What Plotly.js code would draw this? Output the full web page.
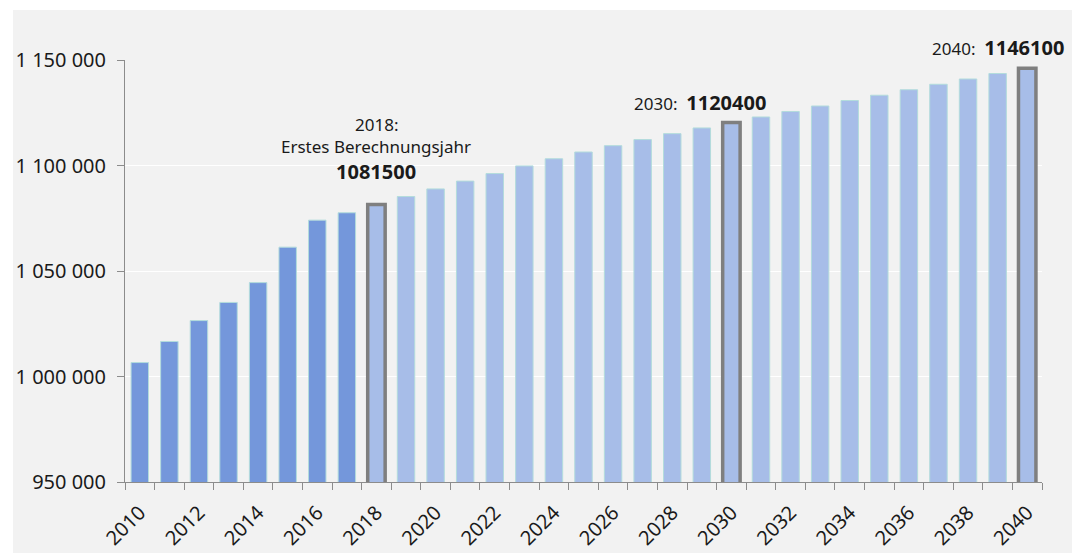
<!DOCTYPE html>
<html>
<head>
<meta charset="utf-8">
<script src="https://cdn.plot.ly/plotly-3.0.1.min.js"></script>
<style>html,body{margin:0;padding:0;background:#fff;}#chart{width:1077px;height:553px;}</style>
</head>
<body>
<div id="chart"></div>
<script>
// Data
const years = [2010,2011,2012,2013,2014,2015,2016,2017,2018,2019,2020,2021,2022,2023,2024,2025,2026,2027,2028,2029,2030,2031,2032,2033,2034,2035,2036,2037,2038,2039,2040];
const population = [1006600,1016600,1026500,1035100,1044500,1061300,1074100,1077600,1081500,1085300,1088900,1092600,1096200,1099800,1103200,1106400,1109400,1112300,1115100,1117800,1120400,1123000,1125600,1128200,1130800,1133300,1135900,1138500,1141000,1143600,1146100];
const highlightYears = [2018, 2030, 2040];
const lastObservedYear = 2017;
const yTickVals = [950000, 1000000, 1050000, 1100000, 1150000];
const yTickText = ['950 000', '1 000 000', '1 050 000', '1 100 000', '1 150 000'];
const xTickVals = [2010,2012,2014,2016,2018,2020,2022,2024,2026,2028,2030,2032,2034,2036,2038,2040];
const noteFirstYear = ['2018:', 'Erstes Berechnungsjahr', '1081500'];
const note2030 = ['2030:', '1120400'];
const note2040 = ['2040:', '1146100'];

const colObserved = '#7497db';
const colProjected = '#a7bde8';
const barColors = years.map(y => y <= lastObservedYear ? colObserved : colProjected);
const lineColors = years.map(y => highlightYears.includes(y) ? '#7f7f7f' : '#b3dcdc');
const lineWidths = years.map(y => highlightYears.includes(y) ? 3.5 : 1);

const FONT = '"Noto Sans", "Open Sans", sans-serif';

const trace = {
  type: 'bar',
  x: years,
  y: population,
  marker: { color: barColors, line: { color: lineColors, width: lineWidths } },
  hoverinfo: 'x+y'
};

const L = 125, R = 1042, T = 60, B = 482;
const pw = R - L, ph = B - T;
const py = p => (B - p) / ph;   // pixel row -> paper y

const txt = { family: FONT, size: 17, color: '#1a1a1a' };
function note(x, yPix, text, extra) {
  return Object.assign({
    x: x, y: py(yPix), xref: 'x', yref: 'paper', xanchor: 'center', yanchor: 'middle',
    showarrow: false, text: text, font: txt
  }, extra || {});
}

const layout = {
  width: 1077, height: 553,
  margin: { l: L, r: 1077 - R, t: T, b: 553 - B, pad: 0 },
  paper_bgcolor: '#ffffff',
  plot_bgcolor: 'rgba(0,0,0,0)',
  bargap: 0.41,
  showlegend: false,
  font: { family: FONT, size: 17, color: '#1a1a1a' },
  xaxis: {
    range: [2009.5, 2040.5],
    tickmode: 'array',
    tickvals: xTickVals,
    ticktext: xTickVals.map(String),
    tickangle: -45,
    ticks: '',
    ticklabelstandoff: 10,
    showgrid: false,
    zeroline: false,
    showline: true,
    linecolor: '#8c8c8c',
    linewidth: 1,
    tickfont: { family: FONT, size: 20, color: '#1a1a1a' },
    minor: { tick0: 2009.5, dtick: 1, ticks: 'outside', ticklen: 7, tickcolor: '#8c8c8c', tickwidth: 1, showgrid: false }
  },
  yaxis: {
    range: [950000, 1150000],
    tickmode: 'array',
    tickvals: yTickVals,
    ticktext: yTickText,
    ticks: 'outside',
    ticklen: 7,
    tickcolor: '#8c8c8c',
    showgrid: true,
    gridcolor: '#ffffff',
    gridwidth: 1,
    zeroline: false,
    showline: true,
    linecolor: '#8c8c8c',
    linewidth: 1,
    ticklabelstandoff: 7,
    tickfont: { family: FONT, size: 20, color: '#1a1a1a' }
  },
  shapes: [{
    type: 'rect', xref: 'paper', yref: 'paper', layer: 'below',
    x0: (13 - L) / pw, x1: (1072 - L) / pw,
    y0: (B - 560) / ph, y1: (B - 10) / ph,
    fillcolor: '#f2f2f2', line: { width: 0 }
  }],
  annotations: [
    note(2018, 124, noteFirstYear[0]),
    note(2018, 146, noteFirstYear[1]),
    note(2018, 171, '<b>' + noteFirstYear[2] + '</b>', { font: Object.assign({}, txt, { size: 20 }) }),
    note(2030, 102, note2030[0] + '&nbsp;&nbsp;<b><span style="font-size:20px">' + note2030[1] + '</span></b>', { xanchor: 'right', xshift: 37 }),
    note(2040, 47, note2040[0] + '&nbsp;&nbsp;<b><span style="font-size:20px">' + note2040[1] + '</span></b>', { xanchor: 'right', xshift: 39 })
  ]
};

Plotly.newPlot('chart', [trace], layout, { displayModeBar: false, staticPlot: true });
</script>
</body>
</html>
